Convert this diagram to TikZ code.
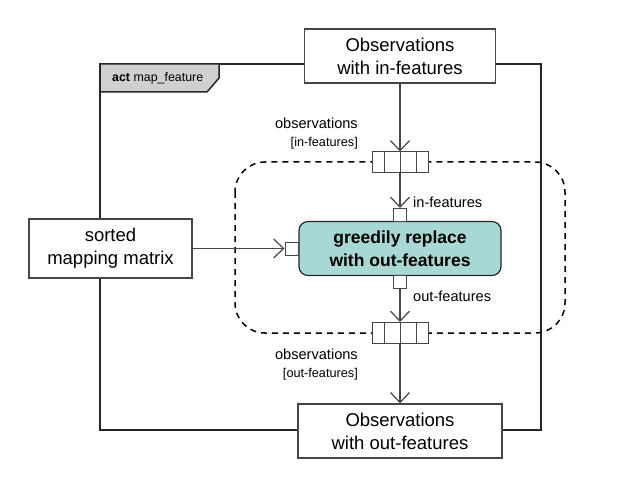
\documentclass[tikz,border=0pt]{standalone}
\usepackage{fontspec}
\setmainfont{Liberation Sans}
\usetikzlibrary{arrows.meta}
\definecolor{tealfill}{RGB}{168,216,212}
\definecolor{ln}{RGB}{70,70,70}
\definecolor{tabgray}{RGB}{208,208,208}
\begin{document}
\begin{tikzpicture}[x=1pt,y=-1pt,
 box/.style={draw=ln,line width=1.2pt,fill=white,align=center,inner sep=0pt,font=\fontsize{18.5}{23}\selectfont},
 actbox/.style={draw=black!85,line width=1.2pt,fill=tealfill,rounded corners=9pt,align=center,inner sep=0pt,font=\bfseries\fontsize{17.5}{23}\selectfont},
 pinbox/.style={draw=ln,line width=1pt,fill=white,minimum size=13pt,inner sep=0pt},
 bigpin/.style={draw=ln,line width=1pt,fill=white,minimum width=56pt,minimum height=21pt,inner sep=0pt,
   path picture={\foreach \dx in {-16,0,16}{\draw[ln,line width=1pt] ([xshift=\dx pt]path picture bounding box.north) -- ([xshift=\dx pt]path picture bounding box.south);}}},
 flow/.style={draw=ln,line width=1.2pt,-{Straight Barb[length=10pt,width=19pt,line width=1.2pt]}},
 lbl/.style={font=\fontsize{14.6}{17}\selectfont,inner sep=0pt},
 slbl/.style={font=\fontsize{12.7}{15}\selectfont,inner sep=0pt}]
\useasboundingbox (0,0) rectangle (626,489);
% frame
\draw[line width=2pt,black!85] (100,64) rectangle (541,430);
\draw[line width=1.5pt,black!85,fill=tabgray] (100,64) -- (219,64) -- (219,78) -- (207,92) -- (100,92) -- cycle;
\node[anchor=west,inner sep=0pt,font=\fontsize{12.4}{14}\selectfont] (title) at (112,78) {\textbf{act} map\_feature};
% region
\draw[line width=1.5pt,dash pattern=on 6pt off 5pt,rounded corners=30pt] (235,162) rectangle (565,333);
% nodes
\node[box,minimum width=191pt,minimum height=54pt] (top) at (400,56) {Observations\\with in-features};
\node[box,minimum width=204pt,minimum height=54pt] (bottom) at (400,431) {Observations\\with out-features};
\node[box,minimum width=163pt,minimum height=59pt] (left) at (110.5,248.5) {sorted\\mapping matrix};
\node[actbox,minimum width=202pt,minimum height=54pt] (action) at (400,248.5) {greedily replace\\with out-features};
\node[bigpin] (p1) at (400,162.5) {};
\node[bigpin] (p2) at (400,333) {};
\node[pinbox] (inpin) at (400,215) {};
\node[pinbox] (outpin) at (400,282) {};
\node[pinbox] (leftpin) at (291.5,248.5) {};
% connectors
\draw[flow] (top) -- (p1.north);
\draw[flow] (p1.south) -- (inpin.north);
\draw[flow] (outpin.south) -- (p2.north);
\draw[flow] (p2.south) -- (bottom.north);
\draw[flow] (left) -- (leftpin.west);
% labels
\node[lbl,anchor=east] (lo1) at (358,123) {observations};
\node[slbl,anchor=east] (lf1) at (358,143) {[in-features]};
\node[lbl,anchor=west] (lin) at (413,202) {in-features};
\node[lbl,anchor=west] (lout) at (413,296) {out-features};
\node[lbl,anchor=east] (lo2) at (358,354) {observations};
\node[slbl,anchor=east] (lf2) at (358,374) {[out-features]};
\end{tikzpicture}
\end{document}
